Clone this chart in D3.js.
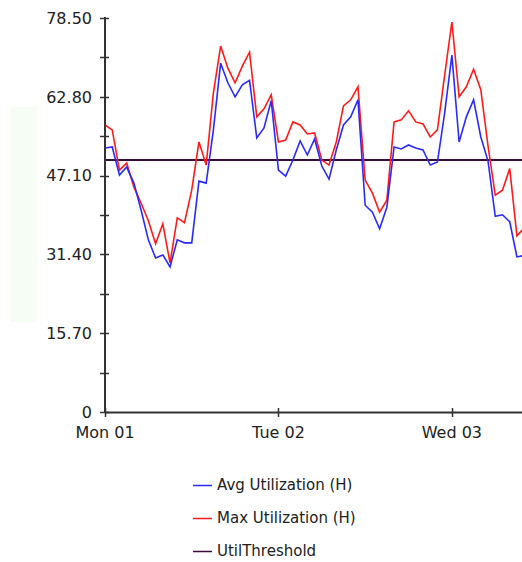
<!DOCTYPE html>
<html>
<head>
<meta charset="utf-8">
<script src="https://cdn.jsdelivr.net/npm/d3@7/dist/d3.min.js"></script>
<style>
  html, body { margin: 0; padding: 0; background: #ffffff; }
  svg { display: block; }
  text { font-family: "DejaVu Sans", Verdana, sans-serif; fill: #222; }
</style>
</head>
<body>
<svg id="chart" width="522" height="562"></svg>
<script>
// ---- data (hourly, starting Mon 01 00:00) ----
const hours = d3.range(0, 59);
const avgUtil = [52.6, 52.8, 47.2, 48.8, 45.6, 40.2, 34.3, 30.7, 31.3, 28.9,
                 34.3, 33.7, 33.7, 46.0, 45.6, 56.2, 69.5, 65.6, 62.8, 65.2,
                 66.1, 54.6, 56.6, 62.0, 48.2, 47.0, 50.2, 54.0, 51.2, 54.4,
                 49.0, 46.4, 52.2, 57.2, 58.8, 62.2, 41.2, 39.8, 36.5, 40.8,
                 52.8, 52.4, 53.2, 52.6, 52.2, 49.2, 49.8, 59.6, 71.1, 53.8,
                 58.8, 62.2, 54.8, 50.0, 39.0, 39.3, 37.9, 30.9, 31.2];
const maxUtil = [57.2, 56.2, 48.2, 49.6, 44.8, 41.6, 38.1, 33.5, 37.5, 29.7,
                 38.7, 37.7, 44.2, 53.8, 49.2, 63.6, 72.9, 68.5, 65.6, 68.9,
                 71.7, 58.8, 60.4, 63.2, 53.8, 54.2, 57.8, 57.2, 55.4, 55.6,
                 50.2, 49.2, 53.8, 61.0, 62.2, 64.8, 46.2, 43.6, 39.8, 42.2,
                 57.8, 58.2, 60.0, 57.8, 57.4, 54.8, 56.2, 67.1, 77.7, 62.8,
                 64.8, 68.3, 64.2, 53.0, 43.2, 44.2, 48.5, 35.1, 36.7];
const utilThreshold = 50.2;
const yTicks = [0, 15.70, 31.40, 47.10, 62.80, 78.50];
const yMinorTicks = [7.85, 23.55, 39.25, 54.95, 70.65];
const dayTicks = [0, 1, 2];
const seriesNames = ["Avg Utilization (H)", "Max Utilization (H)", "UtilThreshold"];
const seriesColors = ["#2a2aff", "#ff1a1a", "#3a0a3a"];

// ---- layout ----
const svg = d3.select("#chart");
const x0 = 105, x1 = 522, yTop = 18, yBot = 412;
const start = new Date(2024, 0, 1, 0, 0); // a Monday
const hourMs = 3600 * 1000;
const x = d3.scaleTime()
  .domain([start, new Date(start.getTime() + 57.7 * hourMs)])
  .range([x0, x1]);
const y = d3.scaleLinear().domain([0, 78.5]).range([yBot, yTop]);
const t = h => new Date(start.getTime() + h * hourMs);

// faint background panel at left
svg.append("rect").attr("x", 10).attr("y", 107).attr("width", 27).attr("height", 215)
  .attr("fill", "#f6fdf4");

// lines
svg.append("clipPath").attr("id", "plotclip")
  .append("rect").attr("x", x0).attr("y", 0).attr("width", x1 - x0).attr("height", yBot);

const line = d3.line().x((d, i) => x(t(hours[i]))).y(d => y(d));
const g = svg.append("g").attr("clip-path", "url(#plotclip)");

g.append("line")
  .attr("x1", x0).attr("x2", x1)
  .attr("y1", y(utilThreshold)).attr("y2", y(utilThreshold))
  .attr("stroke", seriesColors[2]).attr("stroke-width", 2);
g.append("path").datum(maxUtil).attr("d", line)
  .attr("fill", "none").attr("stroke", seriesColors[1]).attr("stroke-width", 1.6)
  .attr("stroke-linejoin", "miter");
g.append("path").datum(avgUtil).attr("d", line)
  .attr("fill", "none").attr("stroke", seriesColors[0]).attr("stroke-width", 1.6)
  .attr("stroke-linejoin", "miter");

// y axis
const yAxis = svg.append("g");
yAxis.append("line").attr("x1", x0).attr("x2", x0).attr("y1", yTop - 1).attr("y2", yBot + 1)
  .attr("stroke", "#333").attr("stroke-width", 2);
yAxis.selectAll("line.tk").data(yTicks.concat(yMinorTicks)).join("line").attr("class", "tk")
  .attr("x1", x0 - 5).attr("x2", x0 + 4)
  .attr("y1", d => Math.round(y(d)) + 0.5).attr("y2", d => Math.round(y(d)) + 0.5)
  .attr("stroke", "#333").attr("stroke-width", 1.5);
yAxis.selectAll("text").data(yTicks).join("text")
  .attr("x", x0 - 13).attr("y", d => y(d))
  .attr("dy", "0.36em").attr("text-anchor", "end")
  .attr("font-size", 16)
  .text(d => d === 0 ? "0" : d3.format(".2f")(d));

// x axis
const xAxis = svg.append("g");
xAxis.append("line").attr("x1", x0).attr("x2", x1).attr("y1", yBot + 0.5).attr("y2", yBot + 0.5)
  .attr("stroke", "#333").attr("stroke-width", 2);
const fmt = d3.timeFormat("%a %d");
xAxis.selectAll("line.tk").data(dayTicks).join("line").attr("class", "tk")
  .attr("x1", d => Math.round(x(t(d * 24))) + 0.5).attr("x2", d => Math.round(x(t(d * 24))) + 0.5)
  .attr("y1", yBot - 4).attr("y2", yBot + 5)
  .attr("stroke", "#333").attr("stroke-width", 1.5);
xAxis.selectAll("text").data(dayTicks).join("text")
  .attr("x", d => x(t(d * 24))).attr("y", 438)
  .attr("text-anchor", "middle").attr("font-size", 16)
  .text(d => fmt(t(d * 24)));

// legend
const legend = svg.append("g");
const rowY = [485, 518, 551];
seriesNames.forEach((name, i) => {
  legend.append("line").attr("x1", 193).attr("x2", 212)
    .attr("y1", rowY[i] + 0.5).attr("y2", rowY[i] + 0.5)
    .attr("stroke", seriesColors[i]).attr("stroke-width", 1.5);
  legend.append("text").attr("x", 217).attr("y", rowY[i]).attr("dy", "0.36em")
    .attr("font-size", 15).text(name);
});
</script>
</body>
</html>
